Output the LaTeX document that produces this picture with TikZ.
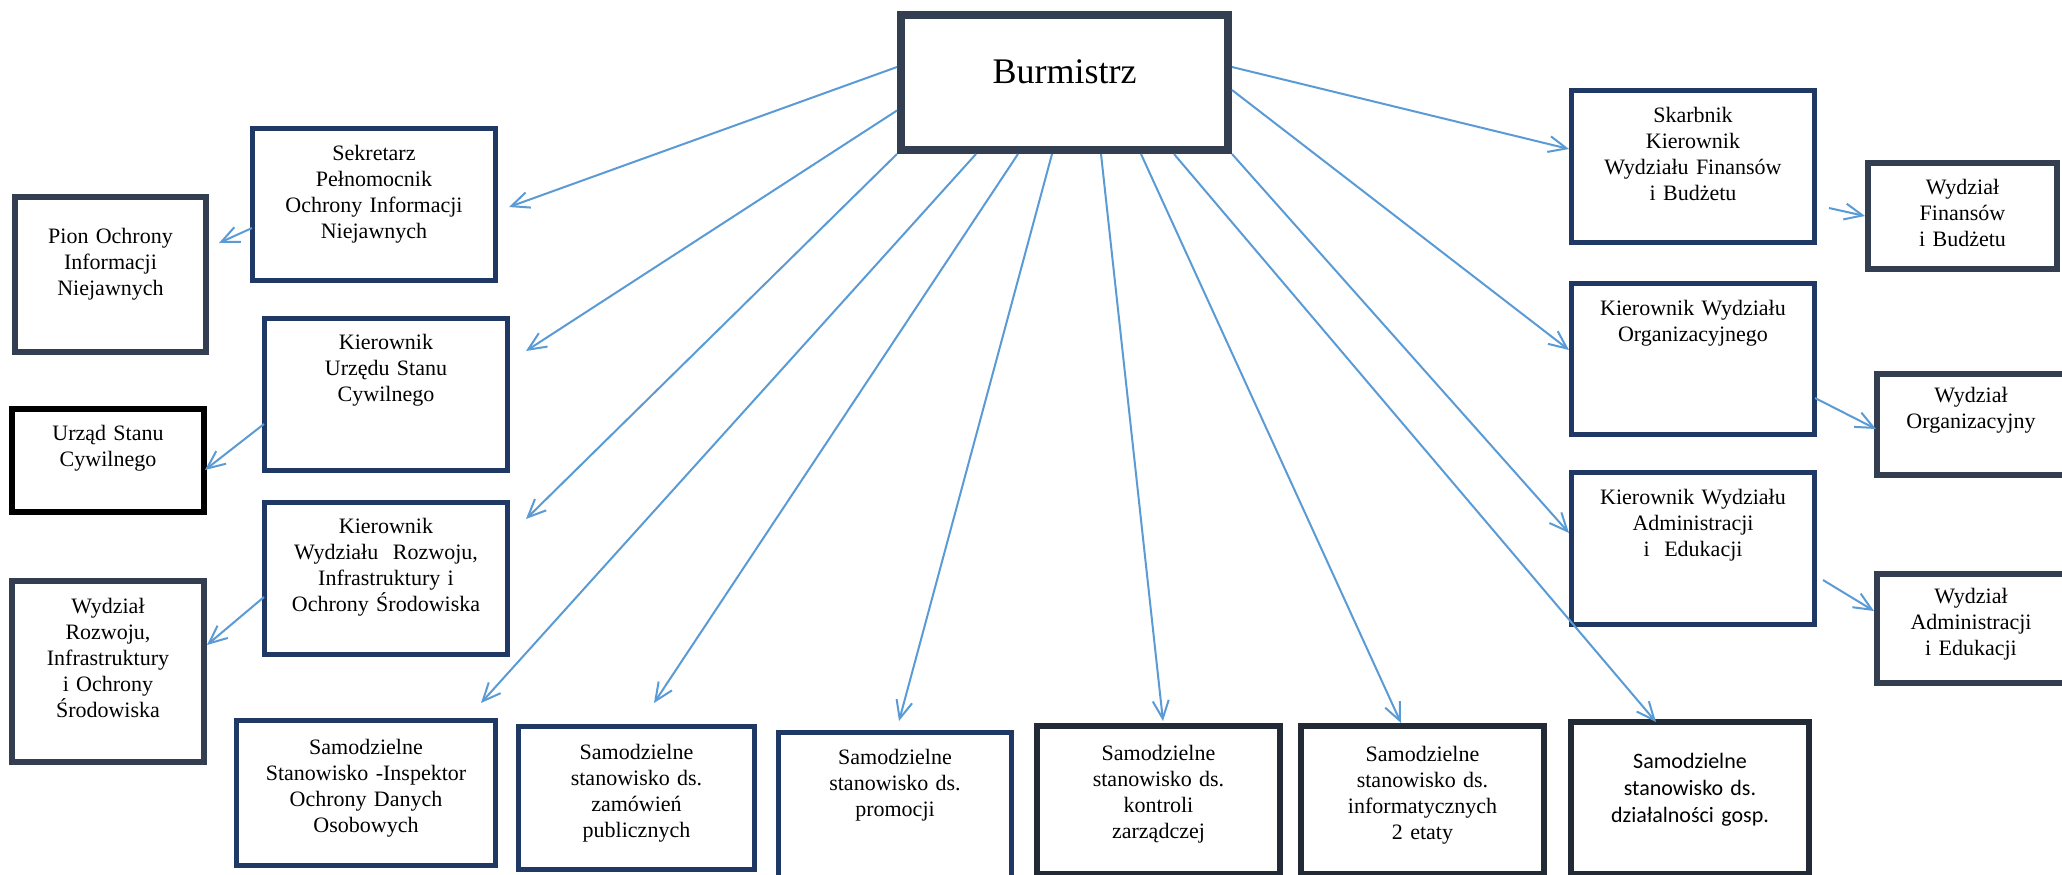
\documentclass[tikz,border=0pt]{standalone}
\usepackage{fontspec}
\setmainfont{Liberation Serif}
\newfontfamily\calibri{Carlito}
\usetikzlibrary{arrows.meta}
\definecolor{navy}{HTML}{1F3864}
\definecolor{slate}{HTML}{333F50}
\definecolor{ink}{HTML}{222A35}
\definecolor{linkblue}{HTML}{5B9BD5}

\begin{document}
\begin{tikzpicture}[x=0.5pt, y=-0.5pt,
    unit/.style={draw, fill=white, anchor=north west, align=center, inner sep=0pt,
        font=\fontsize{11}{13}\selectfont},
    navybox/.style={unit, draw=navy, line width=2.5pt},
    slatebox/.style={unit, draw=slate, line width=3pt},
    inkbox/.style={unit, draw=ink, line width=3pt},
    link/.style={draw=linkblue, line width=1pt, -{Straight Barb[length=9pt, width=8pt]}}]
    \useasboundingbox[fill=white] (0,0) rectangle (2062,874);

    %% top
    \node[slatebox, line width=4pt, font=\fontsize{18}{22}\selectfont,
        text width=163.5pt, text height=34pt, text depth=33.5pt] (burm) at (897,11) {Burmistrz};

    %% left column
    \node[navybox, text width=121.5pt, text height=15.75pt, text depth=60.25pt] (sekr) at (250,126)
        {Sekretarz\\Pełnomocnik\\Ochrony Informacji\\Niejawnych};
    \node[slatebox, text width=95.5pt, text height=23.25pt, text depth=54.25pt] (pion) at (12,194)
        {Pion Ochrony\\Informacji\\Niejawnych};
    \node[navybox, text width=121.5pt, text height=15.25pt, text depth=60.75pt] (kusc) at (262,316)
        {Kierownik\\Urzędu Stanu\\Cywilnego};
    \node[slatebox, draw=black, text width=96pt, text height=15.5pt, text depth=36pt] (usc) at (9,406)
        {Urząd Stanu\\Cywilnego};
    \node[navybox, text width=121.5pt, text height=15.25pt, text depth=60.75pt] (kwr) at (262,500)
        {Kierownik\\Wydziału\ \ Rozwoju,\\Infrastruktury i\\Ochrony Środowiska};
    \node[slatebox, text width=96pt, text height=16pt, text depth=74.5pt] (wroz) at (9,578)
        {Wydział\\Rozwoju,\\Infrastruktury\\i Ochrony\\Środowiska};

    %% right column
    \node[navybox, text width=121.5pt, text height=15.75pt, text depth=60.25pt] (skarb) at (1569,88)
        {Skarbnik\\Kierownik\\Wydziału Finansów\\i Budżetu};
    \node[slatebox, text width=94.5pt, text height=15.5pt, text depth=37.5pt] (wfin) at (1865,160)
        {Wydział\\Finansów\\i Budżetu};
    \node[navybox, text width=121.5pt, text height=15.75pt, text depth=59.75pt] (korg) at (1569,281)
        {Kierownik Wydziału\\Organizacyjnego};
    \node[slatebox, text width=94pt, text height=14pt, text depth=36.5pt] (worg) at (1874,371)
        {Wydział\\Organizacyjny};
    \node[navybox, text width=121.5pt, text height=15.75pt, text depth=60.25pt] (kadm) at (1569,470)
        {Kierownik Wydziału\\Administracji\\i\ \ Edukacji};
    \node[slatebox, text width=94pt, text height=14.5pt, text depth=40pt] (wadm) at (1874,571)
        {Wydział\\Administracji\\i Edukacji};

    %% bottom row
    \node[navybox, text width=129.5pt, text height=16.75pt, text depth=55.75pt] (iodo) at (234,718)
        {Samodzielne\\Stanowisko -Inspektor\\Ochrony Danych\\Osobowych};
    \node[navybox, text width=118pt, text height=16.25pt, text depth=55.25pt] (zam) at (516,724)
        {Samodzielne\\stanowisko ds.\\zamówień\\publicznych};
    \node[navybox, text width=116.5pt, text height=15.75pt, text depth=66.75pt] (prom) at (776,730)
        {Samodzielne\\stanowisko ds.\\promocji};
    \node[inkbox, text width=121.5pt, text height=17pt, text depth=57pt] (kontr) at (1034,723)
        {Samodzielne\\stanowisko ds.\\kontroli\\zarządczej};
    \node[inkbox, text width=121.5pt, text height=17.5pt, text depth=56.5pt] (inf) at (1298,723)
        {Samodzielne\\stanowisko ds.\\informatycznych\\2 etaty};
    \node[inkbox, font=\calibri\fontsize{11}{13.5}\selectfont,
        text width=119pt, text height=23pt, text depth=53pt] (dzial) at (1568,719)
        {Samodzielne\\stanowisko ds.\\działalności gosp.};

    % od burmistrza
    \draw[link] ([yshift=7.75pt]burm.west) -- ([xshift=5.5pt, yshift=-1.25pt]sekr.east);
    \draw[link] ([yshift=-14pt]burm.west) -- ([xshift=8pt, yshift=-17.5pt]kusc.north east);
    \draw[link] (burm.south west) -- ([xshift=8pt, yshift=-9.5pt]kwr.north east);
    \draw[link] ([xshift=-44.25pt]burm.south) -- ([xshift=-8.5pt, yshift=7.5pt]iodo.north east);
    \draw[link] ([xshift=-23.25pt]burm.south) -- ([xshift=8.75pt, yshift=10.5pt]zam.north);
    \draw[link] ([xshift=-6.25pt]burm.south) -- ([xshift=2pt, yshift=4.5pt]prom.north);
    \draw[link] ([xshift=18.25pt]burm.south) -- ([xshift=2.25pt, yshift=1pt]kontr.north);
    \draw[link] ([xshift=38.25pt]burm.south) -- ([xshift=-10.75pt]inf.north);
    \draw[link] ([xshift=54.75pt]burm.south) -- ([xshift=-17pt, yshift=-1.5pt]dzial.north);
    \draw[link] ([yshift=7.75pt]burm.east) -- ([yshift=8.75pt]skarb.west);
    \draw[link] ([yshift=-3.75pt]burm.east) -- ([yshift=4.5pt]korg.west);
    \draw[link] (burm.south east) -- ([yshift=7.75pt]kadm.west);

    % do wydzialow
    \draw[link] ([xshift=1pt, yshift=-11.75pt]sekr.west) -- ([xshift=5pt, yshift=15.75pt]pion.east);
    \draw[link] ([xshift=1pt, yshift=-14.75pt]kusc.west) -- ([xshift=-1pt, yshift=-4.75pt]usc.east);
    \draw[link] ([xshift=1pt, yshift=-9.25pt]kwr.west) -- ([yshift=13.25pt]wroz.east);
    \draw[link] ([xshift=6pt, yshift=-20.75pt]skarb.east) -- (wfin.west);
    \draw[link] ([xshift=-1pt, yshift=-19.5pt]korg.east) -- ([xshift=1pt, yshift=-2.25pt]worg.west);
    \draw[link] ([xshift=3pt, yshift=-15.75pt]kadm.east) -- ([yshift=8.75pt]wadm.west);
\end{tikzpicture}
\end{document}
